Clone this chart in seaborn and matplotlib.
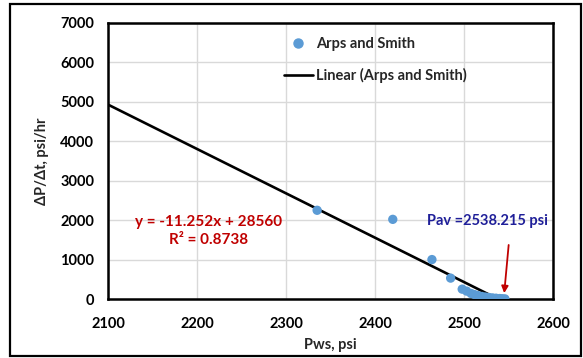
import numpy as np
import pandas as pd
import matplotlib
matplotlib.use("Agg")
import matplotlib.pyplot as plt
from matplotlib.patches import Rectangle
from matplotlib.lines import Line2D
import seaborn as sns

# Build-up rate vs shut-in pressure (Arps and Smith method)
pws = [2335, 2420, 2464, 2485, 2498, 2503, 2508, 2512, 2516, 2520,
       2524, 2528, 2532, 2536, 2540, 2543, 2546]
dpdt = [2250, 2020, 1000, 530, 250, 200, 140, 110, 85, 65,
        50, 38, 28, 20, 12, 7, 3]

# Linear trend reported on the chart
slope = -11.252
intercept = 28560
r_squared = 0.8738
p_avg = 2538.215

x_ticks = [2100, 2200, 2300, 2400, 2500, 2600]
y_ticks = [0, 1000, 2000, 3000, 4000, 5000, 6000, 7000]

sns.set_theme(style="white")
plt.rcParams["font.family"] = ["Lato", "DejaVu Sans"]

fig = plt.figure(figsize=(5.83, 3.58), dpi=100)
ax = fig.add_axes([0.1852, 0.1648, 0.7633, 0.771])

df_pts = pd.DataFrame({"Pws": pws, "rate": dpdt})
x_line = np.array([x_ticks[0], -intercept / slope])
df_line = pd.DataFrame({"Pws": x_line, "rate": slope * x_line + intercept})

blue = "#5B9BD5"
fs = 10.5
sns.lineplot(data=df_line, x="Pws", y="rate", ax=ax, color="black",
             linewidth=1.9, zorder=3)
sns.scatterplot(data=df_pts, x="Pws", y="rate", ax=ax, color=blue,
                s=45, edgecolor="none", zorder=4)

ax.set_xlim(x_ticks[0], x_ticks[-1])
ax.set_ylim(y_ticks[0], y_ticks[-1])
ax.set_xticks(x_ticks)
ax.set_yticks(y_ticks)
ax.grid(True, color="#D9D9D9", linewidth=1.0)
ax.set_axisbelow(True)
for sp in ax.spines.values():
    sp.set_color("black")
    sp.set_linewidth(1.8)
ax.tick_params(axis="both", length=0, labelsize=fs, colors="black")
ax.tick_params(axis="x", pad=13)
ax.tick_params(axis="y", pad=10)
for lab in ax.get_xticklabels() + ax.get_yticklabels():
    lab.set_fontweight("bold")

ax.set_xlabel("Pws, psi", fontsize=fs, fontweight="bold", labelpad=5)
ax.set_ylabel("ΔP/Δt, psi/hr", fontsize=fs, fontweight="bold", labelpad=8)

# Trend equation
ax.text(2213, 1725, f"y = {slope}x + {intercept}\nR² = {r_squared}",
        color="#C00000", fontsize=11, fontweight="bold",
        ha="center", va="center", linespacing=1.3)

# Average reservoir pressure callout
ax.text(2526, 1978, f"Pav ={p_avg} psi", color="#1F1F99", fontsize=fs,
        fontweight="bold", ha="center", va="center")
ax.annotate("", xy=(p_avg + 7, 150), xytext=(p_avg + 12, 1370),
            arrowprops=dict(arrowstyle="-|>", color="#C00000", lw=1.3,
                            mutation_scale=10, shrinkA=0, shrinkB=0))

handles = [
    Line2D([], [], marker="o", linestyle="none", color=blue, markersize=6.5),
    Line2D([], [], color="black", linewidth=1.9),
]
ax.legend(handles, ["Arps and Smith", "Linear (Arps and Smith)"],
          loc="upper left", bbox_to_anchor=(0.365, 0.995), frameon=False,
          prop={"size": fs, "weight": "bold"}, handlelength=2.0,
          labelspacing=1.15, handletextpad=0.25)

# Chart border
fig.patches.append(Rectangle((10 / 583, 2 / 358), 571 / 583, 352 / 358,
                             transform=fig.transFigure, fill=False,
                             edgecolor="black", linewidth=1.6))

fig.savefig("out.png", dpi=100)
